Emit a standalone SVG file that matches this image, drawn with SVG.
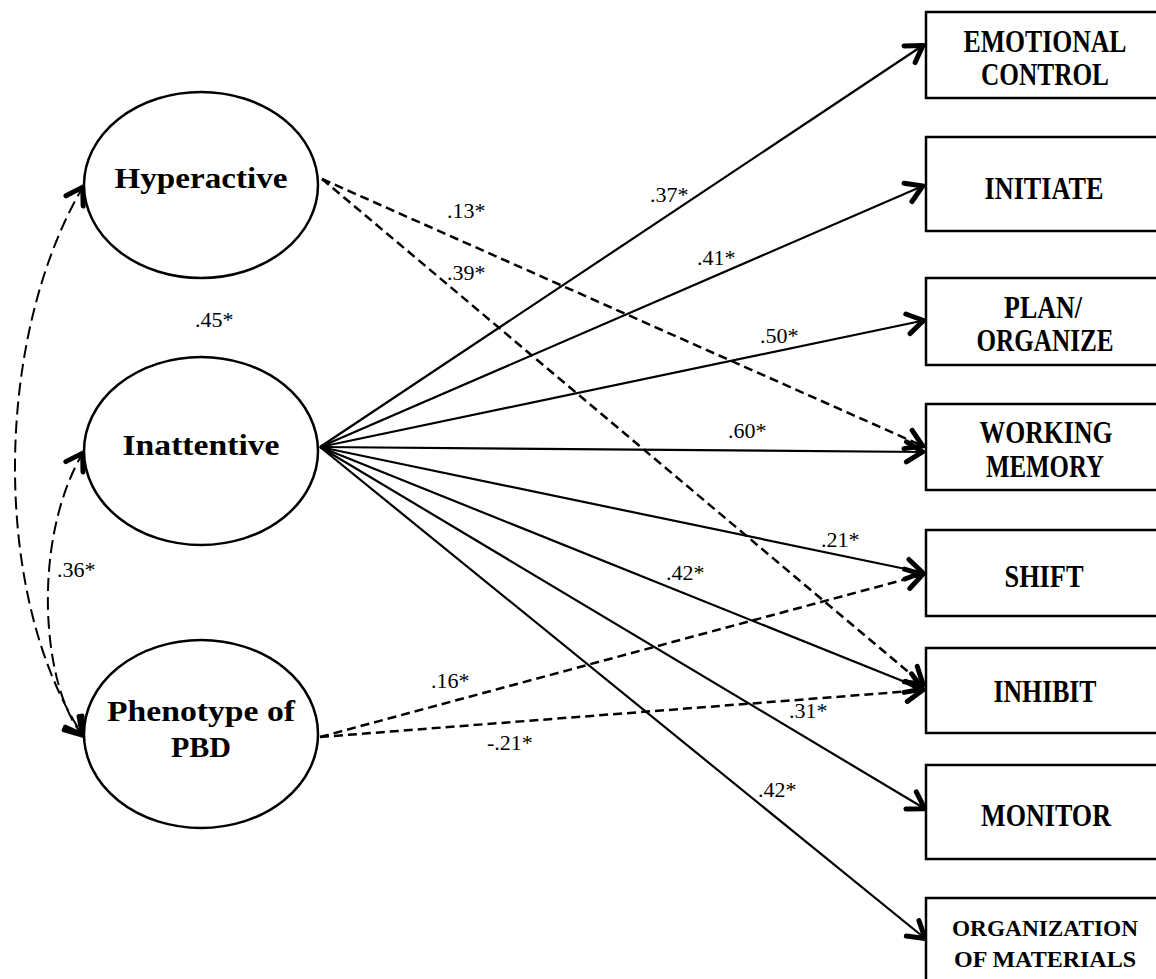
<svg xmlns="http://www.w3.org/2000/svg" width="1156" height="979" viewBox="0 0 1156 979">
<style>
.node{fill:#fff;stroke:#000;stroke-width:2.5}
.nt{font-family:"Liberation Serif",serif;font-weight:bold;fill:#000;text-anchor:middle}
.lbl{font-family:"Liberation Serif",serif;font-size:22px;fill:#000}
.solid{fill:none;stroke:#000;stroke-width:2.2}
.dash{fill:none;stroke:#000;stroke-width:2.5;stroke-dasharray:9 5}
.cov{fill:none;stroke:#000;stroke-width:2;stroke-dasharray:13 6}
</style>
<defs>
<marker id="ah" markerUnits="userSpaceOnUse" markerWidth="30" markerHeight="30" viewBox="-20 -15 30 30" refX="2.5" refY="0" orient="auto-start-reverse">
<path d="M-16,-10 L0,0 L-16,10" fill="none" stroke="#000" stroke-width="5" stroke-linecap="round" stroke-linejoin="round"/>
</marker>
</defs>
<rect width="1156" height="979" fill="#fff"/>
<g id="connectors">
<path class="cov" d="M84,185 C-8,340 -8,600 84,737" marker-start="url(#ah)" marker-end="url(#ah)"/>
<path class="cov" d="M84,451 C30,540 42,690 84,737" marker-start="url(#ah)" marker-end="url(#ah)"/>
<path class="solid" d="M320,447 L925,44" marker-end="url(#ah)"/>
<path class="solid" d="M320,447 L925,185" marker-end="url(#ah)"/>
<path class="solid" d="M320,447 L926,320" marker-end="url(#ah)"/>
<path class="solid" d="M320,447 L925,452" marker-end="url(#ah)"/>
<path class="solid" d="M320,447 L925,573" marker-end="url(#ah)"/>
<path class="solid" d="M320,447 L925,690" marker-end="url(#ah)"/>
<path class="solid" d="M320,447 L927,810" marker-end="url(#ah)"/>
<path class="solid" d="M320,447 L927,940" marker-end="url(#ah)"/>
<path class="dash" d="M322,179 L925,447" marker-end="url(#ah)"/>
<path class="dash" d="M322,179 L925,686" marker-end="url(#ah)"/>
<path class="dash" d="M320,737 L925,574" marker-end="url(#ah)"/>
<path class="dash" d="M320,737 L925,690" marker-end="url(#ah)"/>
<text class="lbl" x="447" y="218">.13*</text>
<text class="lbl" x="447" y="280">.39*</text>
<text class="lbl" x="195" y="327">.45*</text>
<text class="lbl" x="57" y="577">.36*</text>
<text class="lbl" x="650" y="202">.37*</text>
<text class="lbl" x="697" y="265">.41*</text>
<text class="lbl" x="760" y="343">.50*</text>
<text class="lbl" x="728" y="438">.60*</text>
<text class="lbl" x="821" y="547">.21*</text>
<text class="lbl" x="666" y="580">.42*</text>
<text class="lbl" x="431" y="688">.16*</text>
<text class="lbl" x="789" y="718">.31*</text>
<text class="lbl" x="487" y="750">-.21*</text>
<text class="lbl" x="758" y="797">.42*</text>
</g>
<g id="hyperactive">
<ellipse class="node" cx="201" cy="185" rx="117" ry="93"/>
<text class="nt" x="201" y="188" font-size="30" textLength="173" lengthAdjust="spacingAndGlyphs">Hyperactive</text>
</g>
<g id="inattentive">
<ellipse class="node" cx="201" cy="451" rx="117" ry="94"/>
<text class="nt" x="201" y="455" font-size="30" textLength="157" lengthAdjust="spacingAndGlyphs">Inattentive</text>
</g>
<g id="phenotype">
<ellipse class="node" cx="201" cy="734" rx="117" ry="94"/>
<text class="nt" x="201" y="721" font-size="30" textLength="188" lengthAdjust="spacingAndGlyphs">Phenotype of</text>
<text class="nt" x="201" y="757" font-size="30" textLength="60" lengthAdjust="spacingAndGlyphs">PBD</text>
</g>
<g id="emotional-control">
<rect class="node" x="926" y="12" width="240" height="86"/>
<text class="nt" x="1045" y="52" font-size="31" textLength="163" lengthAdjust="spacingAndGlyphs">EMOTIONAL</text>
<text class="nt" x="1045" y="85" font-size="31" textLength="128" lengthAdjust="spacingAndGlyphs">CONTROL</text>
</g>
<g id="initiate">
<rect class="node" x="926" y="137" width="240" height="94"/>
<text class="nt" x="1044" y="199" font-size="31" textLength="119" lengthAdjust="spacingAndGlyphs">INITIATE</text>
</g>
<g id="plan-organize">
<rect class="node" x="926" y="278" width="240" height="87"/>
<text class="nt" x="1043" y="318" font-size="31" textLength="78" lengthAdjust="spacingAndGlyphs">PLAN/</text>
<text class="nt" x="1045" y="351" font-size="31" textLength="137" lengthAdjust="spacingAndGlyphs">ORGANIZE</text>
</g>
<g id="working-memory">
<rect class="node" x="926" y="404" width="240" height="86"/>
<text class="nt" x="1046" y="443" font-size="31" textLength="133" lengthAdjust="spacingAndGlyphs">WORKING</text>
<text class="nt" x="1045" y="477" font-size="31" textLength="118" lengthAdjust="spacingAndGlyphs">MEMORY</text>
</g>
<g id="shift">
<rect class="node" x="926" y="530" width="240" height="86"/>
<text class="nt" x="1044" y="587" font-size="31" textLength="79" lengthAdjust="spacingAndGlyphs">SHIFT</text>
</g>
<g id="inhibit">
<rect class="node" x="926" y="648" width="240" height="85"/>
<text class="nt" x="1045" y="702" font-size="31" textLength="103" lengthAdjust="spacingAndGlyphs">INHIBIT</text>
</g>
<g id="monitor">
<rect class="node" x="926" y="765" width="240" height="94"/>
<text class="nt" x="1046" y="826" font-size="31" textLength="130" lengthAdjust="spacingAndGlyphs">MONITOR</text>
</g>
<g id="organization-of-materials">
<rect class="node" x="926" y="898" width="240" height="90"/>
<text class="nt" x="1045" y="936" font-size="24" textLength="186" lengthAdjust="spacingAndGlyphs">ORGANIZATION</text>
<text class="nt" x="1045" y="967" font-size="24" textLength="182" lengthAdjust="spacingAndGlyphs">OF MATERIALS</text>
</g>
</svg>
